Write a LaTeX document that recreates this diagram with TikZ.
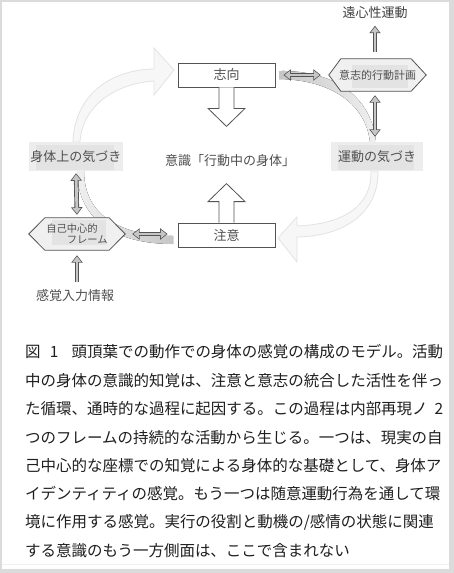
\documentclass[tikz,border=0pt]{standalone}
\usepackage{fontspec}
\setmainfont{Noto Sans CJK JP}
\usetikzlibrary{arrows.meta,calc}
\pgfdeclarelayer{background}
\pgfsetlayers{background,main}
\definecolor{tg}{HTML}{505050}
\begin{document}
\begin{tikzpicture}[x=1pt,y=-1pt,
  every node/.style={inner sep=1.5pt},
  lbl/.style={text=tg, font=\fontsize{13}{15}\selectfont},
  wbox/.style={draw=gray!65!black, line width=0.8pt, fill=white, minimum width=97pt, minimum height=24pt, lbl},
  gbox/.style={fill=gray!14, minimum width=92pt, minimum height=29pt, lbl,
    path picture={\fill[gray!22] ([xshift=7pt,yshift=-3pt]path picture bounding box.north west) rectangle ([xshift=-9pt,yshift=1pt]path picture bounding box.south east);}},
  hexn/.style={minimum height=32pt, text=tg},
  hex/.style={draw=gray!65!black, line width=0.8pt, fill=gray!12},
  faint/.style={fill=gray!6, draw=gray!22, line width=0.8pt},
  blk/.style={draw=gray!65!black, line width=0.8pt, fill=white},
  fo/.style={draw=gray!65!black, line width=4.6pt, >={Triangle[width=11pt,length=7.5pt]}},
  fi/.style={draw=gray!45, line width=2.8pt, >={Triangle[width=8pt,length=5.5pt]}},
  captxt/.style={anchor=west, inner sep=0pt, text=black!88, font=\fontsize{15.48}{18}\selectfont}
]
\useasboundingbox (0,0) rectangle (454,573);

% nodes
\node[wbox] (zhi) at (226.5,75) {志向};
\node[wbox] (chu) at (226.5,235) {注意};
\node[lbl] (ctr) at (230,161) {意識「行動中の身体」};
\node[gbox] (body) at (76,156.5) {身体上の気づき};
\node[gbox] (undo) at (377,156.5) {運動の気づき};
\node[hexn, minimum width=97pt, font=\fontsize{11}{13}\selectfont] (plan) at (377.5,75) {意志的行動計画};
\node[hexn, minimum width=96pt, align=left, font=\fontsize{10.3}{10.5}\selectfont] (ego) at (77,234) {自己中心的\\\hspace*{2em}フレーム};
\node[lbl, text=black!75] (eff) at (375,13) {遠心性運動};
\node[lbl] (sense) at (75,296) {感覚入力情報};

% background shapes
\begin{pgfonlayer}{background}
\fill[gray!28] (0,0) rectangle (454,573);
\fill[white] (2,2) rectangle (449,569);
\draw[gray!12, line width=1pt] (2,564) -- (449,564);
\draw[faint] (73,142) .. controls (74,100) and (105,70) .. (154,69) -- (154,48) -- (174,70) -- (154,95) -- (154,81) .. controls (112,84) and (82,108) .. (80,142) -- cycle;
\draw[faint] (371,171) .. controls (372,205) and (345,224) .. (297,226) -- (297,217) -- (278,238) -- (297,262) -- (297,237) .. controls (350,236) and (379,208) .. (378,171) -- cycle;
\fill[left color=gray!45, right color=gray!12] (279,71) .. controls (338,70) and (372,100) .. (376,142) -- (370,142) .. controls (366,106) and (334,80) .. (279,79) -- cycle;
\fill[left color=gray!12, right color=gray!45] (77,171) .. controls (78,222) and (118,244) .. (173,244) -- (173,236) .. controls (125,236) and (84,218) .. (84,171) -- cycle;
\draw[hex] (plan.west) -- ([xshift=12pt]plan.north west) -- ([xshift=-15pt]plan.north east) -- (plan.east) -- ([xshift=-15pt]plan.south east) -- ([xshift=12pt]plan.south west) -- cycle;
\fill[gray!22] (352,65) rectangle (408,88);
\draw[hex] (ego.west) -- ([xshift=16pt]ego.north west) -- ([xshift=-16pt]ego.north east) -- (ego.east) -- ([xshift=-16pt]ego.south east) -- ([xshift=16pt]ego.south west) -- cycle;
\fill[gray!22] (52,220) rectangle (106,245);
\end{pgfonlayer}

% block arrows
\draw[blk] (zhi.south) ++(-7.5,0) -- ++(0,21) -- ++(-11,0) -- ++(18.5,18) -- ++(18.5,-18) -- ++(-11,0) -- ++(0,-21);
\draw[blk] (chu.north) ++(-7.5,0) -- ++(0,-21) -- ++(-11,0) -- ++(18.5,-18) -- ++(18.5,18) -- ++(-11,0) -- ++(0,21);

% fat connectors
\draw[fo,<->,shorten <=8pt,shorten >=8pt] (zhi.east) -- (plan.west);
\draw[fi,<->,shorten <=9.2pt,shorten >=9.2pt] (zhi.east) -- (plan.west);
\draw[fo,<->,shorten <=4pt,shorten >=5pt] ([xshift=-2.5pt]plan.south) -- ([xshift=-2.5pt]plan.south |- undo.north);
\draw[fi,<->,shorten <=5.2pt,shorten >=6.2pt] ([xshift=-2.5pt]plan.south) -- ([xshift=-2.5pt]plan.south |- undo.north);
\draw[fo,->,shorten <=7pt,shorten >=5pt] ([xshift=-2.5pt]plan.north) -- ([xshift=-2.5pt]plan.north |- eff.south);
\draw[fi,->,shorten <=7pt,shorten >=6.2pt] ([xshift=-2.5pt]plan.north) -- ([xshift=-2.5pt]plan.north |- eff.south);
\draw[fo,<->,shorten <=2pt,shorten >=3pt] (body.south) -- (ego.north);
\draw[fi,<->,shorten <=3.2pt,shorten >=4.2pt] (body.south) -- (ego.north);
\draw[fo,<->,shorten <=7pt,shorten >=10pt] (ego.east) -- (ego.east -| chu.west);
\draw[fi,<->,shorten <=8.2pt,shorten >=11.2pt] (ego.east) -- (ego.east -| chu.west);
\draw[fo,->,shorten <=6pt,shorten >=5pt] (ego.south |- sense.north) -- (ego.south);
\draw[fi,->,shorten <=6pt,shorten >=6.2pt] (ego.south |- sense.north) -- (ego.south);

% caption
\node[captxt] (c1) at (25,352) {\makebox[418pt][s]{図\hspace{0.6em}1\hfill 頭頂葉での動作での身体の感覚の構成のモデル。活動}};
\node[captxt] (c2) at (25,380.5) {中の身体の意識的知覚は、注意と意志の統合した活性を伴っ};
\node[captxt] (c3) at (25,409) {\makebox[418pt][s]{た循環、通時的な過程に起因する。この過程は内部再現ノ\hfill 2}};
\node[captxt] (c4) at (25,437.5) {つのフレームの持続的な活動から生じる。一つは、現実の自};
\node[captxt] (c5) at (25,466) {己中心的な座標での知覚による身体的な基礎として、身体ア};
\node[captxt] (c6) at (25,494) {イデンティティの感覚。もう一つは随意運動行為を通して環};
\node[captxt] (c7) at (25,522) {境に作用する感覚。実行の役割と動機の/感情の状態に関連};
\node[captxt] (c8) at (25,550.5) {する意識のもう一方側面は、ここで含まれない};
\end{tikzpicture}
\end{document}
